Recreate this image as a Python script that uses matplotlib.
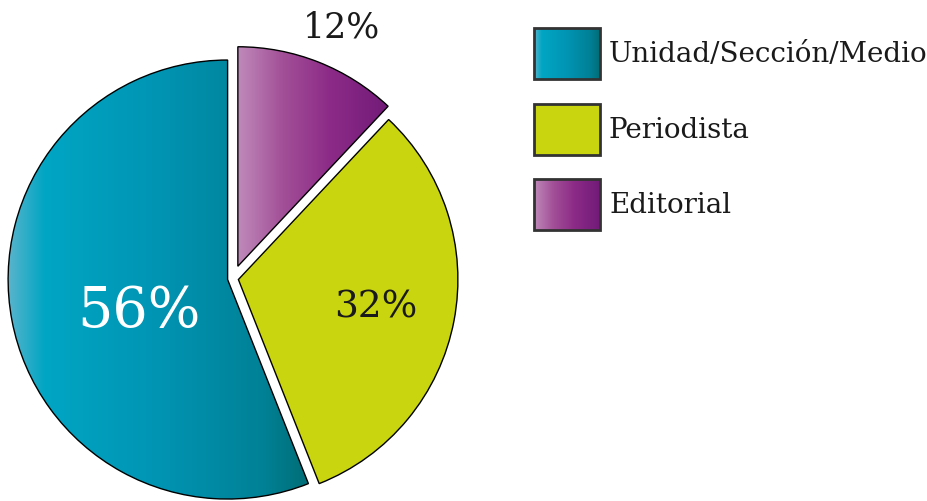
import numpy as np
import matplotlib

matplotlib.use("Agg")

import matplotlib.pyplot as plt
from matplotlib.colors import LinearSegmentedColormap
from matplotlib.patches import Rectangle

# ------------------ data ------------------
labels = ["Unidad/Sección/Medio", "Periodista", "Editorial"]
values = [56, 32, 12]
pct_labels = ["56%", "32%", "12%"]

# ------------------ style ------------------
W, H = 927, 502
CX, CY, R = 233.0, 279.5, 219.5          # pie centre / radius in pixels
explode = [0.025, 0.025, 0.06]

teal = LinearSegmentedColormap.from_list(
    "teal", [(0.0, "#58b4cc"), (0.12, "#00a6c4"), (0.5, "#0094b3"),
             (0.85, "#008196"), (1.0, "#006d76")])
purple = LinearSegmentedColormap.from_list(
    "purple", [(0.0, "#bf89ba"), (0.3, "#a24f97"), (0.6, "#8d2c88"),
               (1.0, "#721a78")])
yellow = "#c9d50e"
fills = [teal, yellow, purple]

plt.rcParams["font.family"] = ["DejaVu Serif"]

fig = plt.figure(figsize=(W / 100, H / 100), dpi=100)

# pie axes: radius 1 maps onto R pixels
ax = fig.add_axes([0, 0, 1, 1])
wedges, _ = ax.pie(
    values,
    startangle=90,
    counterclock=True,
    explode=explode,
    colors=["none", yellow, "none"],
    wedgeprops=dict(edgecolor="black", linewidth=1.0),
)

grad = np.linspace(0, 1, 256)[None, :]
for w, f in zip(wedges, fills):
    if isinstance(f, str):
        continue
    w.set_zorder(3)
    bb = w.get_path().get_extents(w.get_patch_transform())
    im = ax.imshow(grad, cmap=f, aspect="auto", interpolation="bilinear",
                   extent=(bb.x0, bb.x1, bb.y0, bb.y1), zorder=2)
    im.set_clip_path(w)

ax.set_xlim(-CX / R, (W - CX) / R)
ax.set_ylim((CY - H) / R, CY / R)
ax.axis("off")

# overlay axes in pixel coordinates for text and legend
ov = fig.add_axes([0, 0, 1, 1], facecolor="none")
ov.set_xlim(0, W)
ov.set_ylim(H, 0)
ov.axis("off")

ov.text(139.5, 312, pct_labels[0], color="white", fontsize=40,
        ha="center", va="center")
ov.text(375.5, 308, pct_labels[1], color="#1a1a1a", fontsize=27,
        ha="center", va="center")
ov.text(341.5, 28, pct_labels[2], color="#1a1a1a", fontsize=25,
        ha="center", va="center")

# legend
box_x0, box_x1 = 534, 600
box_tops = [29, 105, 180]
box_h = 51
for top, lab, f in zip(box_tops, labels, fills):
    rect = Rectangle((box_x0, top), box_x1 - box_x0, box_h,
                     facecolor=f if isinstance(f, str) else "none",
                     edgecolor="#333333", linewidth=2, zorder=3)
    ov.add_patch(rect)
    if not isinstance(f, str):
        im = ov.imshow(grad, cmap=f, aspect="auto", interpolation="bilinear",
                       extent=(box_x0, box_x1, top + box_h, top), zorder=2)
        im.set_clip_path(rect)
    ov.text(609, top + box_h / 2, lab, color="#1a1a1a", fontsize=20,
            ha="left", va="center")

ov.set_xlim(0, W)
ov.set_ylim(H, 0)

fig.savefig("out.png", dpi=100)
plt.close(fig)
